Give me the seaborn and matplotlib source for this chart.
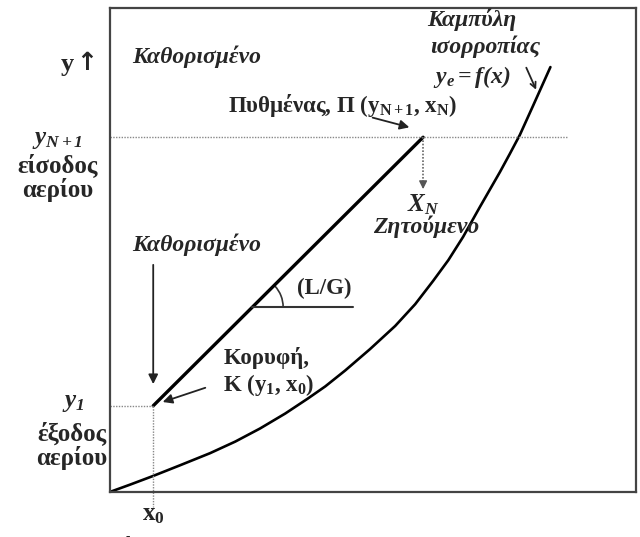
import matplotlib
matplotlib.use("Agg")
import matplotlib.pyplot as plt
from matplotlib.patches import Arc
import seaborn as sns
import pandas as pd

# equilibrium curve y_e = f(x) (axes scaled 0..1)
eq_x = [0.000, 0.038, 0.082, 0.133, 0.190, 0.238, 0.285, 0.333, 0.376, 0.409,
        0.447, 0.494, 0.542, 0.580, 0.614, 0.643, 0.671, 0.703, 0.722, 0.741,
        0.760, 0.779, 0.804, 0.837]
eq_y = [0.000, 0.015, 0.033, 0.055, 0.080, 0.104, 0.131, 0.162, 0.193, 0.218,
        0.251, 0.295, 0.343, 0.388, 0.436, 0.479, 0.527, 0.589, 0.625, 0.661,
        0.699, 0.738, 0.798, 0.878]

# operating line: top K (y1, x0) and bottom P (yN+1, xN)
op_x = [0.082, 0.595]
op_y = [0.178, 0.733]
x0, xN = op_x
y1, yN1 = op_y

eq = pd.DataFrame({"x": eq_x, "y": eq_y})
op = pd.DataFrame({"x": op_x, "y": op_y})

sns.set_style("white")
plt.rcParams["font.family"] = ["Liberation Serif", "DejaVu Serif"]
plt.rcParams["mathtext.fontset"] = "custom"
plt.rcParams["mathtext.rm"] = "Liberation Serif:bold"
plt.rcParams["mathtext.bf"] = "Liberation Serif:bold"
plt.rcParams["mathtext.it"] = "Liberation Serif:italic:bold"
plt.rcParams["mathtext.bfit"] = "Liberation Serif:italic:bold"

fig = plt.figure(figsize=(6.4, 5.37), dpi=100)
ax = fig.add_axes([0.172, 0.084, 0.822, 0.901])

sns.lineplot(data=eq, x="x", y="y", ax=ax, color="black", linewidth=1.9, sort=False)
sns.lineplot(data=op, x="x", y="y", ax=ax, color="black", linewidth=2.4, sort=False)

ax.set_xlim(0, 1)
ax.set_ylim(0, 1)
ax.set_xticks([])
ax.set_yticks([])
ax.set_xlabel("")
ax.set_ylabel("")
for s in ax.spines.values():
    s.set_color("#444444")
    s.set_linewidth(1.6)

dot = dict(color="#888888", linewidth=1, linestyle=(0, (1, 1)))
ax.plot([0, 0.869], [yN1, yN1], **dot)
ax.plot([0, x0], [y1, y1], **dot)
ax.plot([x0, x0], [y1, -0.031], clip_on=False, **dot)
ax.plot([xN, xN], [yN1, 0.635], color="#666666", linewidth=1.2, linestyle=(0, (1, 1)))
ax.annotate("", xy=(xN, 0.620), xytext=(xN, 0.640),
            arrowprops=dict(arrowstyle="-|>", color="#555555", lw=1, mutation_scale=12))

# L/G slope mark
ax.plot([0.270, 0.462], [0.382, 0.382], color="#333333", linewidth=1.5)
ax.add_patch(Arc((0.270, 0.382), 62 / 526, 62 / 484, theta1=0, theta2=45,
                 color="#333333", linewidth=1.2))

arr = dict(arrowstyle="-|>", color="#222222", lw=1.3, mutation_scale=14)
ax.annotate("", xy=(x0, 0.217), xytext=(x0, 0.475), arrowprops=arr)
ax.annotate("", xy=(0.095, 0.184), xytext=(0.186, 0.217), arrowprops=arr)
ax.annotate("", xy=(0.574, 0.752), xytext=(0.494, 0.775), arrowprops=arr)
ax.annotate("", xy=(0.812, 0.826), xytext=(0.789, 0.882),
            arrowprops=dict(arrowstyle="->", color="#222222", lw=1.3, mutation_scale=10))

bi = dict(fontsize=17, fontstyle="italic", fontweight="bold")
bd = dict(fontsize=16.5, fontweight="bold")
lab = dict(fontsize=18, fontweight="bold")

ax.text(-0.069, 0.884, "y", ha="right", va="center", fontsize=19, fontweight="bold")
ax.text(-0.025, 0.886, "↑", ha="right", va="center", fontsize=18, fontweight="bold",
        family=["DejaVu Sans"])
ax.text(0.042, 0.899, "Καθορισμένο", ha="left", va="center", **bi)
ax.text(0.042, 0.510, "Καθορισμένο", ha="left", va="center", **bi)
ax.text(0.224, 0.798, r"Πυθμένας, Π ($\mathbf{y}_{\mathbf{N+1}}$, $\mathbf{x}_{\mathbf{N}}$)",
        ha="left", va="center", **bd)

ax.text(-0.101, 0.727, r"$\mathbfit{y}_{\mathbfit{N+1}}$", ha="center", va="center", fontsize=18)
ax.text(-0.099, 0.676, "είσοδος", ha="center", va="center", **lab)
ax.text(-0.099, 0.624, "αερίου", ha="center", va="center", **lab)

ax.text(-0.070, 0.184, r"$\mathbfit{y}_{\mathbfit{1}}$", ha="center", va="center", fontsize=18)
ax.text(-0.072, 0.122, "έξοδος", ha="center", va="center", **lab)
ax.text(-0.072, 0.070, "αερίου", ha="center", va="center", **lab)

ax.text(x0, -0.048, r"$\mathbf{x}_{\mathbf{0}}$", ha="center", va="center", fontsize=18)
ax.text(x0, -0.115, "είσοδος", ha="center", va="center", **lab)

ax.text(xN, 0.593, r"$\mathbfit{X}_{\mathbfit{N}}$", ha="center", va="center", fontsize=18)
ax.text(0.601, 0.548, "Ζητούμενο", ha="center", va="center", **bi)

ax.text(0.688, 0.975, "Καμπύλη", ha="center", va="center", **bi)
ax.text(0.713, 0.919, "ισορροπίας", ha="center", va="center", **bi)
ax.text(0.688, 0.857, r"$\mathbfit{y}_{\mathbfit{e}}\mathbfit{=f(x)}$", ha="center", va="center", fontsize=17)

ax.text(0.356, 0.421, "(L/G)", ha="left", va="center", **bd)
ax.text(0.215, 0.277, "Κορυφή,", ha="left", va="center", **bd)
ax.text(0.215, 0.221, r"Κ ($\mathbf{y}_{\mathbf{1}}$, $\mathbf{x}_{\mathbf{0}}$)", ha="left", va="center", **bd)

fig.savefig("out.png", dpi=100)
